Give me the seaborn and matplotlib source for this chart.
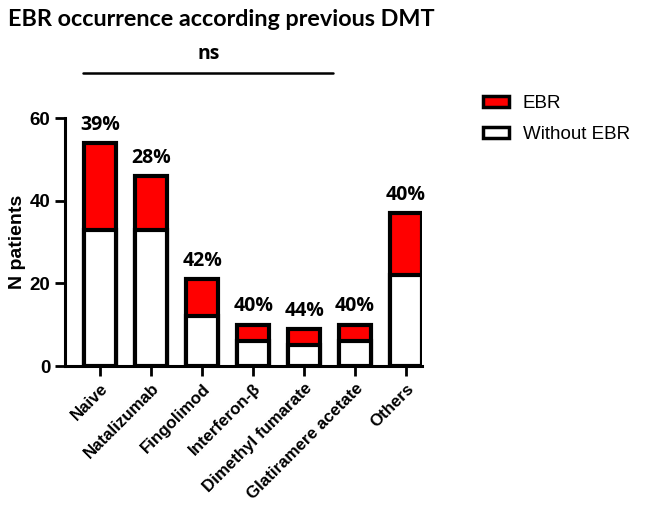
import matplotlib
matplotlib.use('Agg')
import matplotlib.pyplot as plt
import seaborn as sns
import pandas as pd
from matplotlib.patches import Patch

# values
categories = ['Naive', 'Natalizumab', 'Fingolimod', 'Interferon-β',
              'Dimethyl fumarate', 'Glatiramere acetate', 'Others']
without_ebr = [33, 33, 12, 6, 5, 6, 22]
ebr = [21, 13, 9, 4, 4, 4, 15]
pct_labels = ['39%', '28%', '42%', '40%', '44%', '40%', '40%']

df = pd.DataFrame({'dmt': categories, 'without': without_ebr, 'ebr': ebr})
df['total'] = df['without'] + df['ebr']

sns.set_style('ticks')
plt.rcParams['font.family'] = ['Liberation Sans', 'DejaVu Sans']
plt.rcParams.update({'text.color': 'black', 'axes.labelcolor': 'black',
                     'xtick.color': 'black', 'ytick.color': 'black',
                     'axes.edgecolor': 'black'})

fig = plt.figure(figsize=(6.45, 5.2), dpi=100)
ax = fig.add_axes([0.101, 0.296, 0.553, 0.477])

# stacked bars: total in red, without-EBR part in white on top
sns.barplot(data=df, x='dmt', y='total', color='#ff0000', saturation=1,
            edgecolor='black', linewidth=3, width=0.63, ax=ax)
sns.barplot(data=df, x='dmt', y='without', color='white', saturation=1,
            edgecolor='black', linewidth=3, width=0.63, ax=ax)

for i, (tot, lab) in enumerate(zip(df['total'], pct_labels)):
    ax.text(i, tot + 2.0, lab, ha='center', va='bottom', fontsize=14,
            fontweight='bold', family=['Open Sans', 'DejaVu Sans'])

ax.set_ylim(0, 60)
ax.set_xlim(-0.69, 6.31)
ax.set_yticks([0, 20, 40, 60])
ax.set_xlabel('')
ax.set_ylabel('N patients', fontsize=14, fontweight='bold', labelpad=3)
ax.tick_params(axis='both', width=2, length=7, labelsize=13.5)
for lbl in ax.get_yticklabels():
    lbl.set_fontweight('bold')
ax.set_xticks(range(len(categories)))
ax.set_xticklabels(categories, rotation=45, ha='right', rotation_mode='anchor',
                   fontsize=12.2, fontweight='bold')
for s in ['left', 'bottom']:
    ax.spines[s].set_linewidth(2.2)
sns.despine(ax=ax)

# significance bar
ax.plot([-0.33, 4.57], [71, 71], color='black', lw=1.8, clip_on=False)
ax.text(2.12, 73.0, 'ns', ha='center', va='bottom', fontsize=14,
        fontweight='bold', family=['Open Sans', 'DejaVu Sans'])

handles = [Patch(facecolor='#ff0000', edgecolor='black', linewidth=2.5, label='EBR'),
           Patch(facecolor='white', edgecolor='black', linewidth=2.5, label='Without EBR')]
fig.legend(handles=handles, loc='upper left', bbox_to_anchor=(0.722, 0.85),
           frameon=False, fontsize=13.5, handlelength=1.4, handleheight=0.55,
           labelspacing=0.75, handletextpad=0.75)

fig.text(0.012, 0.962, 'EBR occurrence according previous DMT', fontsize=16.8,
         fontweight='bold', family=['Lato', 'DejaVu Sans'], va='center')

fig.savefig('out.png', dpi=100)
